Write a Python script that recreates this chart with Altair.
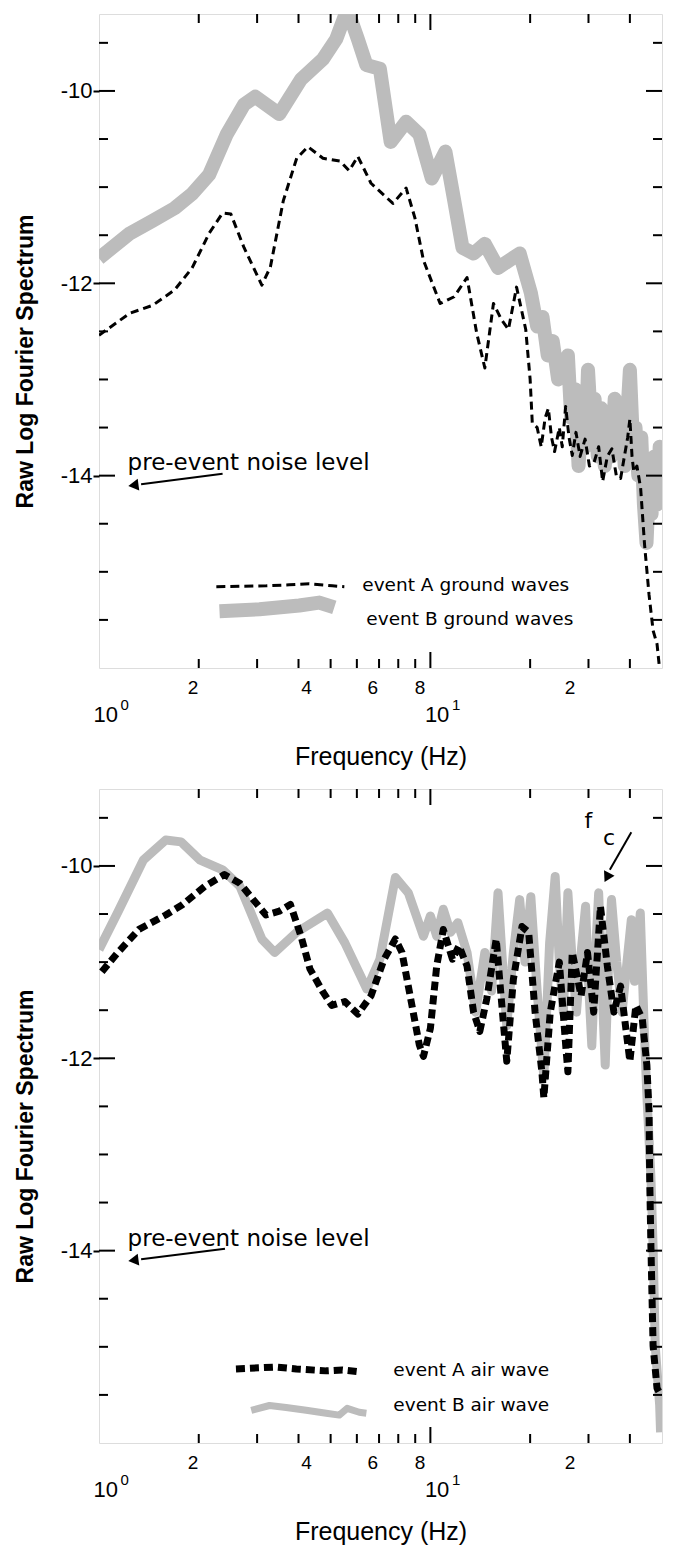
import altair as alt
import pandas as pd

# ---------------- data ----------------
# Panel 1: ground waves
gA_f = [1.0, 1.24, 1.45, 1.69, 1.91, 2.15, 2.36, 2.50, 2.74, 3.10, 3.29, 3.60, 3.95, 4.27, 4.74,
        5.34, 5.69, 6.04, 6.62, 7.71, 8.45, 8.98, 9.53, 10.7, 11.8, 12.9, 13.8, 14.6, 15.5, 16.4,
        17.2, 18.2, 19.4, 20.0, 20.3, 21.0, 21.6, 22.2, 22.7, 23.2, 23.7, 24.5, 25.0, 25.6, 26.2,
        26.8, 27.5, 28.3, 29.3, 30.2, 31.2, 32.2, 33.1, 34.2, 35.3, 36.4, 37.5, 38.5, 39.4, 40.0,
        40.6, 41.1, 42.0, 43.1, 44.3, 45.7, 47.0, 48.3, 49.0, 49.6]
gA_v = [-12.54, -12.31, -12.23, -12.07, -11.84, -11.48, -11.27, -11.28, -11.63, -12.02, -11.83,
        -11.14, -10.70, -10.58, -10.70, -10.73, -10.83, -10.68, -10.96, -11.17, -11.01, -11.32,
        -11.76, -12.21, -12.14, -11.94, -12.52, -12.88, -12.21, -12.38, -12.48, -12.04, -12.48,
        -13.0, -13.45, -13.5, -13.7, -13.4, -13.3, -13.6, -13.75, -13.5, -13.7, -13.28, -13.6,
        -13.79, -13.55, -13.8, -13.62, -13.9, -13.86, -13.7, -14.06, -13.8, -13.72, -14.0, -14.03,
        -13.8, -13.6, -13.41, -13.8, -13.96, -13.9, -14.13, -14.72, -15.24, -15.61, -15.75, -15.96,
        -16.2]

gB_f = [1.0, 1.24, 1.45, 1.69, 1.91, 2.15, 2.43, 2.74, 2.96, 3.5, 4.07, 4.74, 5.2, 5.52, 5.75,
        6.04, 6.41, 7.04, 7.59, 8.45, 9.26, 10.1, 11.1, 11.8, 12.5, 13.5, 14.6, 16.0, 18.6, 20.1,
        21.0, 21.8, 22.6, 23.4, 24.3, 25.2, 26.0, 26.6, 27.3, 28.0, 28.7, 29.4, 29.9, 30.6, 31.3,
        32.0, 32.8, 33.6, 34.4, 35.2, 36.0, 36.9, 37.8, 38.6, 39.4, 40.0, 40.8, 41.6, 42.4, 43.3,
        44.1, 44.9, 45.7, 46.5, 47.4, 48.3, 49.2, 50.0]
gB_v = [-11.74, -11.48, -11.35, -11.22, -11.07, -10.87, -10.45, -10.14, -10.06, -10.24, -9.88,
        -9.67, -9.46, -9.22, -9.25, -9.46, -9.73, -9.77, -10.53, -10.32, -10.45, -10.91, -10.63,
        -11.14, -11.63, -11.69, -11.59, -11.84, -11.69, -12.10, -12.45, -12.35, -12.75, -12.6,
        -13.0, -12.85, -12.75, -13.4, -13.1, -13.9, -13.3, -13.7, -12.9, -13.5, -13.2, -13.8,
        -13.3, -13.9, -13.4, -13.8, -13.2, -13.7, -13.4, -13.9, -13.3, -12.9, -13.6, -13.5, -14.0,
        -13.6, -14.3, -14.7, -14.1, -14.4, -13.8, -14.3, -13.7, -14.0]

# Panel 2: air waves
aA_f = [1.02, 1.14, 1.32, 1.59, 1.79, 2.09, 2.39, 2.66, 2.92, 3.19, 3.50, 3.78, 4.07, 4.33, 4.74,
        5.04, 5.52, 6.04, 6.62, 7.25, 7.84, 8.21, 8.72, 9.26, 9.53, 10.0, 10.45, 10.94, 11.66,
        12.2, 12.9, 13.5, 14.1, 14.8, 15.8, 16.5, 17.0, 17.8, 18.9, 19.8, 20.7, 21.7, 22.0, 23.0,
        24.5, 25.6, 26.0, 26.8, 28.5, 29.8, 31.1, 32.6, 34.2, 35.8, 37.5, 40.0, 41.7, 43.6, 45.0,
        45.7, 45.9, 46.3, 47.0, 48.3, 49.7]
aA_v = [-11.10, -10.90, -10.66, -10.51, -10.40, -10.21, -10.09, -10.18, -10.35, -10.51, -10.47,
        -10.40, -10.73, -11.07, -11.31, -11.45, -11.41, -11.54, -11.35, -10.97, -10.76, -10.90,
        -11.38, -11.86, -11.98, -11.69, -11.04, -10.66, -10.97, -10.83, -11.04, -11.52, -11.72,
        -11.38, -10.76, -11.52, -12.03, -11.18, -10.63, -10.69, -11.52, -12.14, -12.41, -11.52,
        -11.0, -11.86, -12.14, -10.90, -11.35, -10.90, -11.52, -10.42, -11.04, -11.52, -11.25,
        -12.03, -11.45, -11.59, -12.07, -12.55, -13.24, -13.96, -14.99, -15.43, -15.51]

aB_f = [1.0, 1.14, 1.36, 1.59, 1.77, 2.02, 2.36, 2.66, 3.10, 3.39, 3.95, 4.89, 5.52, 6.43, 7.04,
        7.84, 8.58, 9.53, 10.0, 10.45, 10.94, 11.5, 12.1, 12.9, 13.7, 14.6, 15.3, 16.0, 16.5,
        17.0, 17.8, 18.6, 19.3, 20.1, 21.0, 22.0, 22.9, 23.8, 24.5, 25.2, 26.0, 26.8, 27.6, 28.5,
        29.4, 30.0, 30.7, 31.5, 32.2, 33.0, 33.7, 34.5, 35.2, 36.5, 37.9, 39.2, 40.4, 41.3, 43.0,
        44.2, 45.0, 46.3, 47.0, 47.7, 49.2, 49.5]
aB_v = [-10.87, -10.48, -9.94, -9.73, -9.75, -9.94, -10.04, -10.21, -10.76, -10.90, -10.69,
        -10.49, -10.80, -11.28, -10.97, -10.12, -10.28, -10.73, -10.52, -10.73, -10.45, -10.69,
        -10.59, -10.90, -11.52, -10.90, -11.3, -10.28, -11.0, -11.66, -10.9, -10.35, -11.0, -10.32,
        -11.3, -12.2, -10.8, -10.11, -11.0, -11.52, -10.28, -11.0, -11.52, -10.9, -10.42, -11.2,
        -11.87, -10.9, -10.28, -11.3, -12.07, -11.0, -10.35, -11.0, -11.52, -11.0, -10.56, -11.2,
        -10.49, -11.7, -12.38, -13.24, -13.96, -14.99, -15.61, -15.89]

# legend samples
legGA_f = [2.26, 3.20, 3.75, 4.31, 5.06, 5.50]
legGA_v = [-15.155, -15.145, -15.135, -15.124, -15.145, -15.155]
legGB_f = [2.31, 3.05, 4.02, 4.62, 5.13]
legGB_v = [-15.41, -15.39, -15.35, -15.32, -15.37]
legAA_f = [2.59, 3.43, 3.94, 4.85, 5.43, 6.11]
legAA_v = [-15.23, -15.21, -15.23, -15.25, -15.24, -15.26]
legAB_f = [2.88, 3.27, 3.67, 4.22, 4.85, 5.31, 5.61, 6.10, 6.41]
legAB_v = [-15.66, -15.61, -15.63, -15.66, -15.69, -15.71, -15.64, -15.68, -15.69]

leg_texts_ground = ["event A ground waves", "event B ground waves"]
leg_texts_air = ["event A air wave", "event B air wave"]

# axis / tick values
X_DOMAIN = [1, 50]
Y_DOMAIN = [-16, -9.2]
LABEL_DOMAIN = [1.13, 35.2]          # scale used for the offset first-row tick labels
row1_label_vals = [2, 4, 6, 8, 20]
decade_vals = [1, 10]
y_label_vals = [-10, -12, -14]
x_minor = [2, 3, 4, 5, 6, 7, 8, 9, 20, 30, 40]
x_major = [10]
y_minor = [-15.5, -15, -14.5, -13.5, -13, -12.5, -11.5, -11, -10.5, -9.5]
y_major = [-10, -12, -14]

FONT = "DejaVu Sans"
W, H = 563, 654
GRAY = "#bcbcbc"

xs = alt.Scale(type="log", domain=X_DOMAIN)
ys = alt.Scale(domain=Y_DOMAIN)

Y_AXIS = alt.Axis(
    values=y_label_vals,
    labelExpr="'-' + format(abs(datum.value), 'd')",
    labelFontSize=22, labelPadding=1, tickSize=6, tickWidth=2, tickColor="black",
    domain=False, grid=False, labelColor="black",
    title="Raw Log Fourier Spectrum", titleFontSize=23, titleFontWeight="bold",
    titlePadding=23, titleY=H / 2 + 20, titleColor="black")


def Y(field):
    return alt.Y(field, scale=ys, axis=Y_AXIS)


def df_of(f, v):
    return pd.DataFrame({"f": f, "v": v, "i": list(range(len(f)))})


def line(f, v, color, width, dash=None, clip=True):
    kw = dict(color=color, strokeWidth=width, clip=clip, strokeJoin="round")
    if dash:
        kw["strokeDash"] = dash
    return alt.Chart(df_of(f, v)).mark_line(**kw).encode(
        x=alt.X("f:Q", scale=xs, axis=None),
        y=Y("v:Q"),
        order="i:Q",
    )


def text(t, f, v, size, align="left"):
    d = pd.DataFrame({"t": [t], "f": [f], "v": [v]})
    return alt.Chart(d).mark_text(
        font=FONT, fontSize=size, align=align, baseline="alphabetic", color="black"
    ).encode(
        x=alt.X("f:Q", scale=xs, axis=None),
        y=Y("v:Q"),
        text="t:N",
    )


def head(f, v, shape, angle, size=140):
    d = pd.DataFrame({"f": [f], "v": [v]})
    return alt.Chart(d).mark_point(
        shape=shape, angle=angle, filled=True, color="black", opacity=1, size=size
    ).encode(
        x=alt.X("f:Q", scale=xs, axis=None),
        y=Y("v:Q"),
    )


def inward_ticks():
    layers = []
    for vals, L in ((x_minor, 9), (x_major, 16)):
        d = pd.DataFrame({"t": vals})
        for yv in (alt.value(0), alt.value(H)):
            layers.append(
                alt.Chart(d).mark_tick(orient="vertical", size=2 * L, thickness=2,
                                       color="black", clip=True, opacity=1)
                .encode(x=alt.X("t:Q", scale=xs, axis=None), y=yv)
            )
    for vals, L in ((y_minor, 9), (y_major, 16)):
        d = pd.DataFrame({"t": vals})
        for xv in (alt.value(0), alt.value(W)):
            layers.append(
                alt.Chart(d).mark_tick(orient="horizontal", size=2 * L, thickness=2,
                                       color="black", clip=True, opacity=1)
                .encode(y=Y("t:Q"), x=xv)
            )
    return layers


def axis_carrier():
    d = pd.DataFrame({"f": decade_vals, "v": [-10, -12]})
    return alt.Chart(d).mark_point(opacity=0).encode(
        x=alt.X("f:Q", scale=xs, axis=alt.Axis(
            orient="bottom", values=decade_vals,
            labelExpr="'10'",
            labelFontSize=22, labelPadding=36, labelAlign="left", labelOffset=-6,
            ticks=False, tickSize=0, domain=False, grid=False, labelFlush=False,
            labelOverlap=False, labelColor="black",
            title="Frequency (Hz)", titleFontSize=25, titleFontWeight="normal",
            titlePadding=19, titleColor="black")),
        y=Y("v:Q"),
    )


def superscripts():
    d = pd.DataFrame({"f": decade_vals, "v": [-10, -12]})
    return alt.Chart(d).mark_point(opacity=0).encode(
        x=alt.X("f:Q", scale=xs, axis=alt.Axis(
            orient="bottom", values=decade_vals,
            labelExpr="datum.value == 1 ? '0' : '1'",
            labelFontSize=15, labelPadding=29, labelAlign="left", labelOffset=21,
            ticks=False, tickSize=0, domain=False, grid=False, labelFlush=False,
            labelOverlap=False, labelColor="black", title=None)),
        y=Y("v:Q"),
    )


def row1_labels():
    d = pd.DataFrame({"f": row1_label_vals, "v": [-12] * len(row1_label_vals)})
    return alt.Chart(d).mark_point(opacity=0).encode(
        x=alt.X("f:Q", scale=alt.Scale(type="log", domain=LABEL_DOMAIN), axis=alt.Axis(
            orient="bottom", values=row1_label_vals,
            labelExpr="datum.value >= 10 ? format(datum.value / 10, 'd') : format(datum.value, 'd')",
            labelFontSize=19, labelPadding=10, ticks=False, tickSize=0, domain=False,
            grid=False, labelFlush=False, labelOverlap=False, labelColor="black", title=None)),
        y=Y("v:Q"),
    )


def panel(layers):
    return alt.layer(axis_carrier(), superscripts(), row1_labels(), *layers,
                     *inward_ticks()).resolve_scale(x="independent").properties(width=W, height=H)


top_layers = [
    line(gB_f, gB_v, GRAY, 14),
    line(gA_f, gA_v, "black", 3, dash=[8, 5]),
    text("pre-event noise level", 1.22, -13.94, 23),
    line([2.36, 1.34], [-13.98, -14.09], "black", 2),
    head(1.27, -14.10, "triangle-left", 352.6),
    line(legGA_f, legGA_v, "black", 3, dash=[9, 5]),
    line(legGB_f, legGB_v, GRAY, 14),
    text(leg_texts_ground[0], 6.23, -15.20, 18.5),
    text(leg_texts_ground[1], 6.41, -15.55, 18.5),
]

bottom_layers = [
    line(aB_f, aB_v, GRAY, 9),
    line(aA_f, aA_v, "black", 7, dash=[9, 5]),
    text("pre-event noise level", 1.22, -13.95, 23),
    line([2.40, 1.34], [-13.98, -14.09], "black", 2),
    head(1.27, -14.10, "triangle-left", 352.6),
    text("f", 29.2, -9.61, 22),
    text("c", 33.2, -9.78, 22),
    line([40.4, 34.8], [-9.65, -10.04], "black", 2),
    head(34.1, -10.12, "triangle-down", 27.5),
    line(legAA_f, legAA_v, "black", 7, dash=[9, 5]),
    line(legAB_f, legAB_v, GRAY, 7),
    text(leg_texts_air[0], 7.73, -15.30, 18.5),
    text(leg_texts_air[1], 7.73, -15.67, 18.5),
]

chart = alt.vconcat(panel(top_layers), panel(bottom_layers), spacing=18).properties(
    padding={"left": 13, "top": 13, "right": 5, "bottom": 5}
).configure_view(stroke="black", strokeWidth=2).configure_axis(
    labelFont=FONT, titleFont=FONT
).configure(background="white")

chart.save("out.html", embed_options={"renderer": "svg", "actions": False})
